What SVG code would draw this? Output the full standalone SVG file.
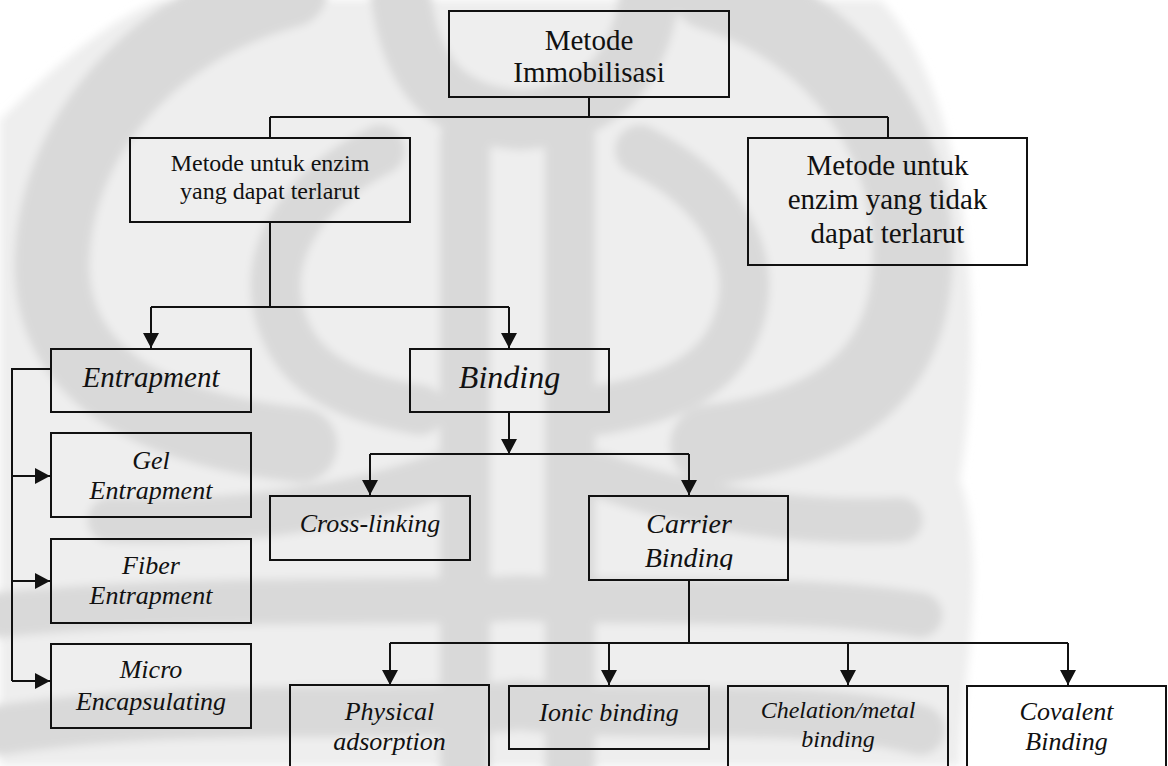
<svg xmlns="http://www.w3.org/2000/svg" width="1168" height="766" viewBox="0 0 1168 766">
  <style>
    .box { fill: none; stroke: #111; stroke-width: 2; }
    .ln { fill: none; stroke: #111; stroke-width: 2; }
    .t { font-family: "Liberation Serif", "Times New Roman", serif; fill: #111; text-anchor: middle; }
    .i { font-style: italic; }
    .wm { fill: none; stroke: #d9d9d9; stroke-linecap: round; }
  </style>
  <defs>
    <marker id="ah" markerUnits="userSpaceOnUse" markerWidth="16" markerHeight="16" refX="15" refY="8" orient="auto">
      <path d="M0,0 L15,8 L0,16 z" fill="#111"/>
    </marker>
    <clipPath id="clipCarrier"><rect x="589" y="496" width="199" height="74"/></clipPath>
    <filter id="soft" x="-10%" y="-10%" width="120%" height="120%"><feGaussianBlur stdDeviation="4"/></filter>
  </defs>
  <rect width="1168" height="766" fill="#ffffff"/>

  <g id="watermark" filter="url(#soft)">
    <path fill="#eeeeee" d="M160,0 H880 C960,80 990,300 960,480 C990,560 960,700 960,766 H0 V120 C60,60 110,20 160,0 z"/>
    <path class="wm" stroke-width="75" d="M290,-10 C140,30 50,150 52,270 C55,380 160,430 300,445"/>
    <path class="wm" stroke-width="80" d="M710,-10 C845,30 920,150 912,270 C906,380 830,430 710,445"/>
    <path class="wm" stroke-width="50" d="M380,150 C300,190 255,260 285,330 C305,380 360,400 420,410"/>
    <path class="wm" stroke-width="50" d="M640,150 C720,190 765,260 735,330 C715,380 660,400 600,410"/>
    <path class="wm" stroke-width="60" d="M400,-10 C410,80 450,115 520,120 C590,115 640,80 650,-10"/>
    <path class="wm" stroke-width="50" d="M465,140 V766"/>
    <path class="wm" stroke-width="50" d="M570,140 V766"/>
    <path class="wm" stroke-width="45" d="M440,475 C360,505 240,525 110,520"/>
    <path class="wm" stroke-width="45" d="M600,475 C680,505 790,525 900,520"/>
    <path class="wm" stroke-width="45" d="M0,615 C200,595 400,605 520,598 C640,605 800,595 920,615"/>
    <path class="wm" stroke-width="50" d="M0,730 C200,700 400,720 520,705 C640,720 800,700 920,730"/>
  </g>

  <g id="connectors">
    <path class="ln" d="M589,97 V117 M270,117 H888 M270,117 V138 M888,117 V138"/>
    <path class="ln" d="M270,222 V307 M151,307 H509"/>
    <path class="ln" d="M151,307 V348" marker-end="url(#ah)"/>
    <path class="ln" d="M509,307 V348" marker-end="url(#ah)"/>
    <path class="ln" d="M51,369 H12 V681"/>
    <path class="ln" d="M12,476 H50" marker-end="url(#ah)"/>
    <path class="ln" d="M12,581 H50" marker-end="url(#ah)"/>
    <path class="ln" d="M12,681 H50" marker-end="url(#ah)"/>
    <path class="ln" d="M509,412 V454" marker-end="url(#ah)"/>
    <path class="ln" d="M370,454 H689"/>
    <path class="ln" d="M370,454 V495" marker-end="url(#ah)"/>
    <path class="ln" d="M689,454 V495" marker-end="url(#ah)"/>
    <path class="ln" d="M689,580 V643 M390,643 H1068"/>
    <path class="ln" d="M390,643 V685" marker-end="url(#ah)"/>
    <path class="ln" d="M609,643 V685" marker-end="url(#ah)"/>
    <path class="ln" d="M848,643 V685" marker-end="url(#ah)"/>
    <path class="ln" d="M1068,643 V685" marker-end="url(#ah)"/>
  </g>

  <g id="n-metode-immobilisasi">
    <rect class="box" x="449" y="11" width="280" height="86"/>
    <text class="t" x="589" y="50" font-size="29">Metode</text>
    <text class="t" x="589" y="82" font-size="29">Immobilisasi</text>
  </g>
  <g id="n-terlarut">
    <rect class="box" x="130" y="138" width="280" height="84"/>
    <text class="t" x="270" y="171" font-size="24">Metode untuk enzim</text>
    <text class="t" x="270" y="199" font-size="24">yang dapat terlarut</text>
  </g>
  <g id="n-tidak-terlarut">
    <rect class="box" x="748" y="138" width="279" height="127"/>
    <text class="t" x="887.5" y="175" font-size="29">Metode untuk</text>
    <text class="t" x="887.5" y="209" font-size="29">enzim yang tidak</text>
    <text class="t" x="887.5" y="243" font-size="29">dapat terlarut</text>
  </g>
  <g id="n-entrapment">
    <rect class="box" x="51" y="349" width="200" height="63"/>
    <text class="t i" x="151" y="387" font-size="29">Entrapment</text>
  </g>
  <g id="n-gel">
    <rect class="box" x="51" y="433" width="200" height="84"/>
    <text class="t i" x="151" y="469" font-size="26">Gel</text>
    <text class="t i" x="151" y="499" font-size="26">Entrapment</text>
  </g>
  <g id="n-fiber">
    <rect class="box" x="51" y="539" width="200" height="84"/>
    <text class="t i" x="151" y="574" font-size="26">Fiber</text>
    <text class="t i" x="151" y="604" font-size="26">Entrapment</text>
  </g>
  <g id="n-micro">
    <rect class="box" x="51" y="644" width="200" height="84"/>
    <text class="t i" x="151" y="678" font-size="26">Micro</text>
    <text class="t i" x="151" y="710" font-size="26">Encapsulating</text>
  </g>
  <g id="n-binding">
    <rect class="box" x="410" y="349" width="199" height="63"/>
    <text class="t i" x="509.5" y="388" font-size="32">Binding</text>
  </g>
  <g id="n-crosslinking">
    <rect class="box" x="270" y="496" width="200" height="64"/>
    <text class="t i" x="370" y="532" font-size="26">Cross-linking</text>
  </g>
  <g id="n-carrier">
    <rect class="box" x="589" y="496" width="199" height="84"/>
    <g clip-path="url(#clipCarrier)">
      <text class="t i" x="689" y="533" font-size="28">Carrier</text>
      <text class="t i" x="689" y="567" font-size="28">Binding</text>
    </g>
  </g>
  <g id="n-physical">
    <rect class="box" x="290" y="685" width="199" height="100"/>
    <text class="t i" x="389.5" y="720" font-size="26">Physical</text>
    <text class="t i" x="389.5" y="750" font-size="26">adsorption</text>
  </g>
  <g id="n-ionic">
    <rect class="box" x="509" y="686" width="200" height="63"/>
    <text class="t i" x="609" y="721" font-size="26">Ionic binding</text>
  </g>
  <g id="n-chelation">
    <rect class="box" x="728" y="686" width="220" height="100"/>
    <text class="t i" x="838" y="718" font-size="24">Chelation/metal</text>
    <text class="t i" x="838" y="747" font-size="24">binding</text>
  </g>
  <g id="n-covalent">
    <rect class="box" x="967" y="686" width="199" height="100"/>
    <text class="t i" x="1066.5" y="720" font-size="26">Covalent</text>
    <text class="t i" x="1066.5" y="750" font-size="26">Binding</text>
  </g>
</svg>
